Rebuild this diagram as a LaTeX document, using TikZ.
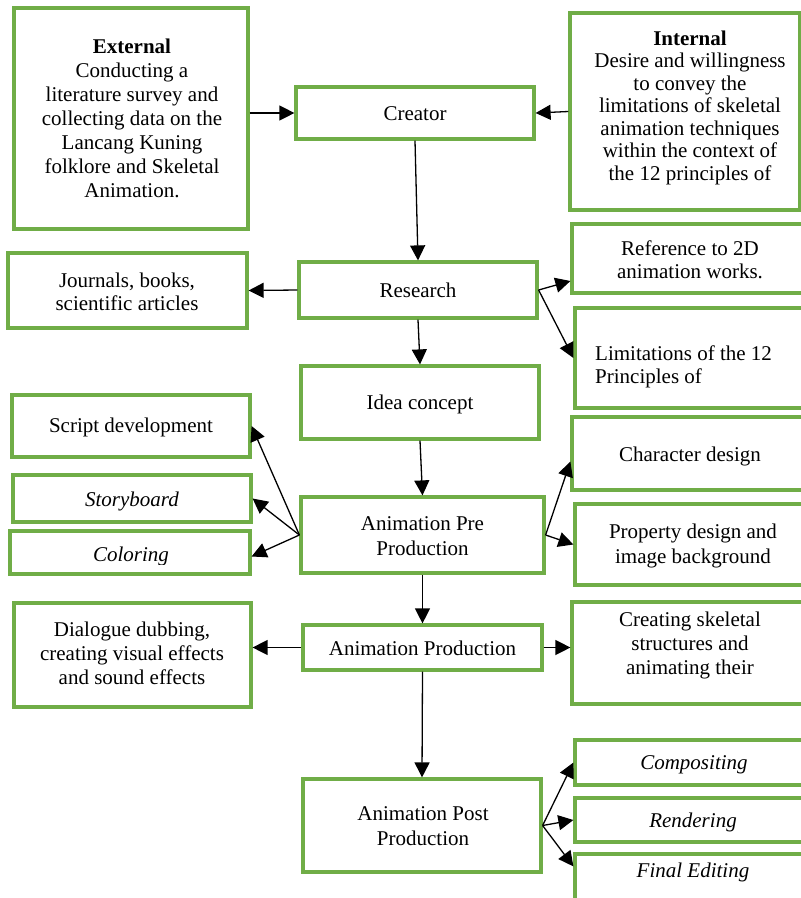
\documentclass[tikz,border=0pt]{standalone}
\usepackage{fontspec}
\setmainfont{Liberation Serif}
\usetikzlibrary{arrows.meta,fit}
\definecolor{boxgreen}{RGB}{112,173,71}
\tikzset{
  box/.style={draw=boxgreen, line width=3.2pt, inner sep=0pt},
  txt/.style={inner sep=0pt, align=center, font=\fontsize{21}{24}\selectfont},
  arr/.style={-{Triangle[length=15pt,width=15pt]}, line width=1.3pt},
}
\begin{document}
\begin{tikzpicture}[x=1pt,y=-1pt]
\useasboundingbox (0,0) rectangle (801,898);
\clip (0,0) rectangle (801,898);

% boxes
\node[box, fit={(14,8) (248,229)}] (ext) {};
\node[box, fit={(296,87) (534,139)}] (cre) {};
\node[box, fit={(570,13) (800,210)}] (int) {};
\node[box, fit={(8,253) (247,328)}] (jou) {};
\node[box, fit={(299,262) (537,318)}] (res) {};
\node[box, fit={(572,224) (808,293)}] (ref) {};
\node[box, fit={(575,308) (808,408)}] (lim) {};
\node[box, fit={(301,366) (539,439)}] (ide) {};
\node[box, fit={(12,395) (250,457)}] (scr) {};
\node[box, fit={(13,475) (251,522)}] (sto) {};
\node[box, fit={(10,531) (250,574)}] (col) {};
\node[box, fit={(301,497) (544,573)}] (pre) {};
\node[box, fit={(572,417) (808,490)}] (cha) {};
\node[box, fit={(575,504) (808,585)}] (prp) {};
\node[box, fit={(14,603) (251,707)}] (dia) {};
\node[box, fit={(303,625) (542,670)}] (prd) {};
\node[box, fit={(572,602) (808,704)}] (ske) {};
\node[box, fit={(303,779) (541,872)}] (pos) {};
\node[box, fit={(575,740) (808,785)}] (com) {};
\node[box, fit={(575,798) (808,842)}] (ren) {};
\node[box, fit={(575,854) (808,910)}] (fin) {};

% texts
\node[txt] (extT) at (132,121) {\strut\textbf{External}\\\strut Conducting a\\\strut literature survey and\\\strut collecting data on the\\\strut Lancang Kuning\\\strut folklore and Skeletal\\\strut Animation.};
\node[txt] (creT) at (415,116) {\strut Creator};
\node[txt, font=\fontsize{21}{22.5}\selectfont] (intT) at (690,108) {\strut\textbf{Internal}\\\strut Desire and willingness\\\strut to convey the\\\strut limitations of skeletal\\\strut animation techniques\\\strut within the context of\\\strut the 12 principles of};
\node[txt, font=\fontsize{21}{23}\selectfont] (jouT) at (127,294) {\strut Journals, books,\\\strut scientific articles};
\node[txt] (resT) at (418,293) {\strut Research};
\node[txt, font=\fontsize{21}{23}\selectfont] (refT) at (690,262) {\strut Reference to 2D\\\strut animation works.};
\node[txt, align=left, anchor=west, font=\fontsize{21}{23}\selectfont] (limT) at (595,367) {\strut Limitations of the 12\\\strut Principles of};
\node[txt] (ideT) at (420,405) {\strut Idea concept};
\node[txt] (scrT) at (131,428) {\strut Script development};
\node[txt] (stoT) at (132,502) {\strut\textit{Storyboard}};
\begin{scope}
\clip (10,531) rectangle (250,564);
\node[txt] (colT) at (131,557) {\strut\textit{Coloring}};
\end{scope}
\node[txt, font=\fontsize{21}{25}\selectfont] (preT) at (422.5,537.5) {\strut Animation Pre\\\strut Production};
\node[txt] (chaT) at (690,457) {\strut Character design};
\node[txt, font=\fontsize{21}{25}\selectfont] (prpT) at (693,546) {\strut Property design and\\\strut image background};
\node[txt] (diaT) at (132,656) {\strut Dialogue dubbing,\\\strut creating visual effects\\\strut and sound effects};
\node[txt] (prdT) at (422.5,651) {\strut Animation Production};
\node[txt] (skeT) at (690,646) {\strut Creating skeletal\\\strut structures and\\\strut animating their};
\node[txt, font=\fontsize{21}{25}\selectfont] (posT) at (423,828) {\strut Animation Post\\\strut Production};
\node[txt] (comT) at (694,765) {\strut\textit{Compositing}};
\node[txt] (renT) at (693,823) {\strut\textit{Rendering}};
\node[txt] (finT) at (693,873) {\strut\textit{Final Editing}};

% connectors
\draw[arr] (ext.east |- cre.west) -- (cre.west);
\draw[arr] (int.west) -- (cre.east);
\draw[arr] (cre.south) -- (res.north);
\draw[arr] (res.west) -- (jou.east);
\draw[arr] (res.east) -- ([yshift=-22.5pt]ref.west);
\draw[arr] (res.east) -- (lim.west);
\draw[arr] (res.south) -- (ide.north);
\draw[arr] (ide.south) -- (pre.north);
\draw[arr] (pre.west) -- (scr.east);
\draw[arr] (pre.west) -- (sto.east);
\draw[arr] (pre.west) -- ([yshift=-4pt]col.east);
\draw[arr] (pre.east) -- ([yshift=-8pt]cha.west);
\draw[arr] (pre.east) -- (prp.west);
\draw[arr] (pre.south) -- (prd.north);
\draw[arr] (prd.west) -- (prd.west -| dia.east);
\draw[arr] (prd.east) -- (prd.east -| ske.west);
\draw[arr] (prd.south) -- (pos.north);
\draw[arr] (pos.east) -- (com.west);
\draw[arr] (pos.east) -- (ren.west);
\draw[arr] (pos.east) -- ([yshift=-14pt]fin.north west);
\end{tikzpicture}
\end{document}
